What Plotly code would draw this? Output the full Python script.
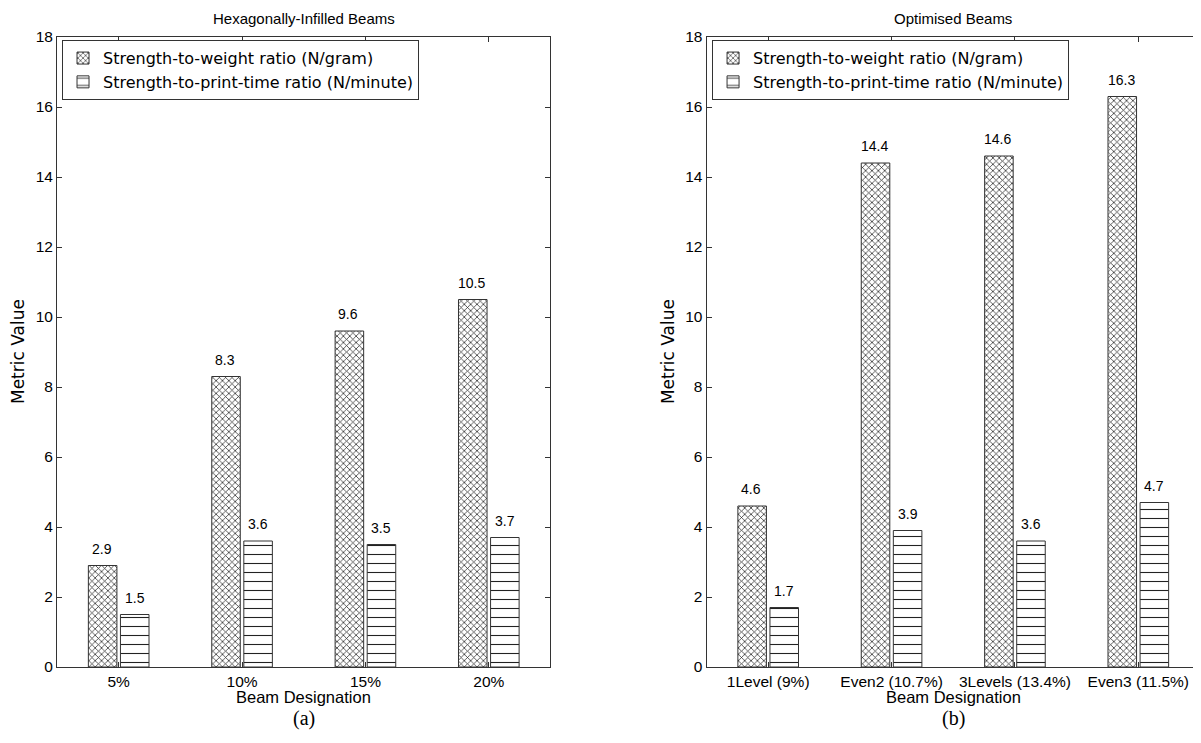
import plotly.graph_objects as go
from plotly.subplots import make_subplots

# ---- data ----
cats_a = ["5%", "10%", "15%", "20%"]
weight_a = [2.9, 8.3, 9.6, 10.5]
time_a = [1.5, 3.6, 3.5, 3.7]

cats_b = ["1Level (9%)", "Even2 (10.7%)", "3Levels (13.4%)", "Even3 (11.5%)"]
weight_b = [4.6, 14.4, 14.6, 16.3]
time_b = [1.7, 3.9, 3.6, 4.7]

name_w = "Strength-to-weight ratio (N/gram)"
name_t = "Strength-to-print-time ratio (N/minute)"
y_ticks = [0, 2, 4, 6, 8, 10, 12, 14, 16, 18]

FONT = "Liberation Sans, Arial, sans-serif"
WIDE = "DejaVu Sans, sans-serif"
SERIF = "Liberation Serif, Times New Roman, serif"
LINE = "#333333"

fig = make_subplots(rows=1, cols=2, horizontal_spacing=0.1365)

def add_pair(cats, w, t, col, legend):
    fig.add_trace(go.Bar(
        x=cats, y=w, name=name_w, legend=legend,
        marker=dict(color="white", line=dict(color=LINE, width=1),
                    pattern=dict(shape="x", fgcolor="#222222", bgcolor="white",
                                 size=4.5, solidity=0.3, fillmode="replace")),
    ), row=1, col=col)
    fig.add_trace(go.Bar(
        x=cats, y=t, name=name_t, legend=legend,
        marker=dict(color="white", line=dict(color=LINE, width=1),
                    pattern=dict(shape="-", fgcolor="#222222", bgcolor="white",
                                 size=9, solidity=0.12, fillmode="replace")),
    ), row=1, col=col)
    xref = "x" if col == 1 else "x2"
    yref = "y" if col == 1 else "y2"
    for c, v in zip(cats, w):
        fig.add_annotation(x=c, y=v, xref=xref, yref=yref, text=f"{v:.1f}",
                           showarrow=False, xshift=-17, yshift=7, yanchor="bottom",
                           font=dict(family=FONT, size=14, color="black"))
    for c, v in zip(cats, t):
        fig.add_annotation(x=c, y=v, xref=xref, yref=yref, text=f"{v:.1f}",
                           showarrow=False, xshift=16, yshift=7, yanchor="bottom",
                           font=dict(family=FONT, size=14, color="black"))

add_pair(cats_a, weight_a, time_a, 1, "legend")
add_pair(cats_b, weight_b, time_b, 2, "legend2")

axis_common = dict(showline=True, linecolor=LINE, linewidth=1, mirror="ticks",
                   ticks="inside", ticklen=5, tickcolor=LINE,
                   tickfont=dict(family=FONT, size=15.5, color="black"),
                   showgrid=False, zeroline=False)
for i in (1, 2):
    fig.update_xaxes(row=1, col=i, **axis_common)
    fig.update_yaxes(row=1, col=i, range=[0, 18], tickvals=y_ticks, **axis_common)

fig.update_layout(
    width=1193, height=735,
    margin=dict(l=49, r=1, t=29, b=76),
    paper_bgcolor="white", plot_bgcolor="white",
    barmode="group", bargap=0.48, bargroupgap=0.11,
    font=dict(family=FONT, size=14, color="black"),
    legend=dict(x=0.0044, y=0.995, xanchor="left", yanchor="top",
                bgcolor="white", bordercolor=LINE, borderwidth=1,
                font=dict(family=WIDE, size=16), tracegroupgap=0),
    legend2=dict(x=0.5731, y=0.995, xanchor="left", yanchor="top",
                 bgcolor="white", bordercolor=LINE, borderwidth=1,
                 font=dict(family=WIDE, size=16), tracegroupgap=0),
)

# titles and axis labels
texts = [
    ("Hexagonally-Infilled Beams", 0.216, 1.029, 0, 15, FONT),
    ("Optimised Beams", 0.784, 1.029, 0, 15, FONT),
    ("Beam Designation", 0.216, -0.048, 0, 16.5, FONT),
    ("Beam Designation", 0.784, -0.048, 0, 16.5, FONT),
    ("(a)", 0.216, -0.081, 0, 20, SERIF),
    ("(b)", 0.784, -0.081, 0, 20, SERIF),
    ("Metric Value", -0.0341, 0.5, -90, 17, WIDE),
    ("Metric Value", 0.5346, 0.5, -90, 17, WIDE),
]
for t, x, y, ang, sz, fam in texts:
    fig.add_annotation(text=t, x=x, y=y, xref="paper", yref="paper",
                       showarrow=False, textangle=ang, xanchor="center",
                       yanchor="middle", font=dict(family=fam, size=sz, color="black"))

fig.write_html("out.html")
